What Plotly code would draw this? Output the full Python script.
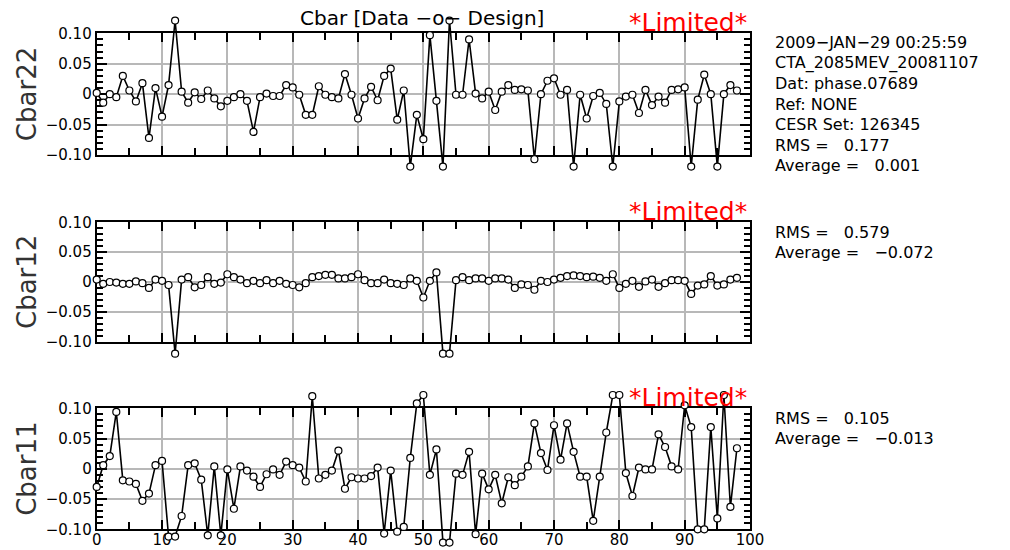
import plotly.graph_objects as go

idx = list(range(99))

cbar22 = [0.002, -0.014, 0.000, -0.005, 0.030, 0.006, -0.012, 0.018, -0.072, 0.010,
          -0.037, 0.015, 0.121, 0.004, -0.014, 0.003, -0.008, 0.006, -0.007, -0.020,
          -0.011, -0.005, 0.000, -0.011, -0.062, -0.005, 0.001, -0.003, -0.003, 0.015,
          0.011, -0.001, -0.034, -0.034, 0.013, -0.001, -0.005, -0.007, 0.033, -0.001,
          -0.040, -0.007, 0.012, -0.010, 0.030, 0.042, -0.042, 0.006, -0.119, -0.034,
          -0.074, 0.097, -0.011, -0.119, 0.121, -0.001, -0.001, 0.090, 0.001, -0.007,
          0.004, -0.026, 0.004, 0.015, 0.007, 0.008, 0.006, -0.107, 0.000, 0.022,
          0.026, -0.001, 0.007, -0.119, -0.001, -0.040, -0.003, 0.002, -0.016, -0.119,
          -0.012, -0.004, -0.001, -0.031, 0.007, -0.018, -0.004, -0.014, 0.007, 0.008,
          0.011, -0.119, -0.009, 0.032, 0.000, -0.119, 0.000, 0.015, 0.006]

cbar12 = [0.004, -0.003, 0.000, -0.001, -0.003, -0.003, 0.001, -0.002, -0.010, 0.004,
          0.002, -0.005, -0.120, 0.004, 0.008, -0.009, -0.005, 0.008, -0.003, -0.001,
          0.013, 0.008, 0.004, -0.002, 0.002, -0.002, 0.003, -0.002, 0.002, -0.003,
          -0.005, -0.009, -0.002, 0.008, 0.010, 0.012, 0.012, 0.006, 0.006, 0.008,
          0.013, 0.003, -0.002, -0.002, 0.004, -0.002, -0.003, -0.005, 0.006, 0.002,
          -0.026, 0.002, 0.016, -0.120, -0.120, 0.003, 0.008, 0.003, 0.006, 0.006,
          0.002, 0.006, 0.006, 0.004, -0.010, -0.004, -0.005, -0.013, 0.002, 0.000,
          0.004, 0.007, 0.010, 0.011, 0.010, 0.008, 0.009, 0.007, 0.002, 0.013,
          -0.010, -0.003, 0.002, -0.008, 0.001, 0.004, -0.008, -0.002, 0.003, 0.003,
          0.002, -0.020, -0.006, -0.004, 0.010, -0.006, -0.004, 0.004, 0.007]

cbar11 = [-0.030, 0.006, 0.021, 0.094, -0.019, -0.021, -0.025, -0.053, -0.041, 0.006,
          0.013, -0.112, -0.112, -0.078, 0.006, 0.009, -0.018, -0.110, 0.004, -0.110,
          -0.001, -0.066, 0.004, -0.003, -0.013, -0.030, -0.009, -0.001, -0.010, 0.012,
          0.006, 0.002, -0.021, 0.120, -0.016, -0.010, -0.003, 0.030, -0.033, -0.014,
          -0.016, -0.016, -0.012, 0.002, -0.107, -0.003, -0.104, -0.096, 0.018, 0.108,
          0.122, -0.010, 0.032, -0.122, -0.122, -0.008, -0.010, 0.028, -0.108, -0.008,
          -0.034, -0.010, -0.057, -0.014, -0.027, -0.013, 0.004, 0.075, 0.026, -0.002,
          0.072, 0.015, 0.075, 0.028, -0.013, -0.013, -0.086, -0.013, 0.060, 0.122,
          0.122, -0.007, -0.045, 0.002, -0.001, -0.001, 0.057, 0.036, 0.004, -0.001,
          0.105, 0.069, -0.100, -0.100, 0.069, -0.082, 0.122, -0.063, 0.034]

panel_names = ["Cbar22", "Cbar12", "Cbar11"]
rms_vals = ["0.177", "0.579", "0.105"]
avg_vals = ["0.001", "-0.072", "-0.013"]
x_ticks = [0, 10, 20, 30, 40, 50, 60, 70, 80, 90, 100]
y_ticks = [-0.10, -0.05, 0.0, 0.05, 0.10]
y_tick_text = ["\u22120.10", "\u22120.05", "0", "0.05", "0.10"]
info_lines = ["2009\u2212JAN\u221229 00:25:59", "CTA_2085MEV_20081107",
              "Dat: phase.07689", "Ref: NONE", "CESR Set: 126345"]

W, H = 1010, 550
FONT = "DejaVu Sans"
X0, X1 = 96.7, 750.0
frames = [(33.3, 155.0), (222.3, 341.7), (408.3, 529.3)]
series = [cbar22, cbar12, cbar11]
EXT = 0.03

def fx(px):
    return px / W

def fy(py):
    return 1 - py / H

fig = go.Figure()
layout = dict(
    width=W, height=H,
    margin=dict(l=0, r=0, t=0, b=0),
    paper_bgcolor="white", plot_bgcolor="rgba(0,0,0,0)",
    showlegend=False,
    font=dict(family=FONT, color="black"),
)

minor_x = [v for v in range(5, 100, 10)]
minor_y = [round(-0.1 + 0.01 * k, 2) for k in range(21)]
minor_y = [v for v in minor_y if abs(v / 0.05 - round(v / 0.05)) > 1e-6]

annotations = []
for i, (top, bot) in enumerate(frames):
    fa = 2 * i + 1
    da = 2 * i + 2
    fsuf = "" if fa == 1 else str(fa)
    dsuf = str(da)
    ppu = (bot - top) / 0.2
    # frame axes
    layout["xaxis" + fsuf] = dict(
        domain=[fx(X0), fx(X1)], range=[0, 100], anchor="y" + fsuf,
        showline=True, linecolor="black", linewidth=2, mirror="allticks",
        ticks="inside", ticklen=9, tickwidth=2, tickcolor="black",
        tickmode="array", tickvals=x_ticks,
        showticklabels=(i == 2), tickfont=dict(size=15, family=FONT),
        ticklabelstandoff=-4,
        showgrid=True, gridcolor="#b8b8b8", gridwidth=2, zeroline=False,
        minor=dict(tickmode="array", tickvals=minor_x, ticks="inside",
                   ticklen=7, tickwidth=2, tickcolor="black", showgrid=False),
        automargin=False, fixedrange=True,
    )
    layout["yaxis" + fsuf] = dict(
        domain=[fy(bot), fy(top)], range=[-0.1, 0.1], anchor="x" + fsuf,
        showline=True, linecolor="black", linewidth=2, mirror="allticks",
        ticks="inside", ticklen=10, tickwidth=2, tickcolor="black",
        tickmode="array", tickvals=y_ticks, ticktext=y_tick_text,
        tickfont=dict(size=15, family=FONT),
        showgrid=True, gridcolor="#b8b8b8", gridwidth=2, zeroline=False,
        minor=dict(tickmode="array", tickvals=minor_y, ticks="inside",
                   ticklen=6, tickwidth=1.5, tickcolor="black", showgrid=False),
        automargin=False, fixedrange=True,
    )
    # data axes (extended vertically so limited points can sit outside the frame)
    layout["xaxis" + dsuf] = dict(
        domain=[fx(X0), fx(X1)], range=[0, 100], anchor="y" + dsuf,
        visible=False, fixedrange=True,
    )
    layout["yaxis" + dsuf] = dict(
        domain=[fy(bot + EXT * ppu), fy(top - EXT * ppu)],
        range=[-0.1 - EXT, 0.1 + EXT], anchor="x" + dsuf,
        visible=False, fixedrange=True,
    )
    # empty trace so the frame subplot is created
    fig.add_trace(go.Scatter(
        x=[None], y=[None], mode="markers", hoverinfo="skip",
        xaxis="x" + fsuf, yaxis="y" + fsuf,
    ))
    fig.add_trace(go.Scatter(
        x=idx, y=series[i], mode="lines+markers",
        xaxis="x" + dsuf, yaxis="y" + dsuf,
        line=dict(color="black", width=1.6),
        marker=dict(symbol="circle", size=7, color="white",
                    line=dict(color="black", width=1.2)),
        cliponaxis=False,
    ))
    mid = (top + bot) / 2
    annotations.append(dict(
        text=panel_names[i], x=fx(27), y=fy(mid), xref="paper", yref="paper",
        textangle=-90, showarrow=False, xanchor="center", yanchor="middle",
        font=dict(size=26, family=FONT, color="#333"),
    ))
    annotations.append(dict(
        text="*Limited*", x=fx(749), y=fy(top - 11), xref="paper", yref="paper",
        showarrow=False, xanchor="right", yanchor="middle",
        font=dict(size=25, family=FONT, color="red"),
    ))

# right-side info text
line_h = 20.4
info_y0 = 43
for k, t in enumerate(info_lines):
    annotations.append(dict(
        text=t, x=fx(773), y=fy(info_y0 + k * line_h), xref="paper", yref="paper",
        showarrow=False, xanchor="left", yanchor="middle",
        font=dict(size=16, family=FONT),
    ))
stat_y = [info_y0 + 5 * line_h, 232, 418]
for i in range(3):
    annotations.append(dict(
        text="RMS =   " + rms_vals[i], x=fx(773), y=fy(stat_y[i]),
        xref="paper", yref="paper", showarrow=False, xanchor="left", yanchor="middle",
        font=dict(size=16, family=FONT),
    ))
    annotations.append(dict(
        text="Average =   " + avg_vals[i].replace("-", "\u2212"), x=fx(773),
        y=fy(stat_y[i] + line_h), xref="paper", yref="paper", showarrow=False,
        xanchor="left", yanchor="middle", font=dict(size=16, family=FONT),
    ))

annotations.append(dict(
    text="Cbar [Data \u2212o\u2212 Design]", x=fx(422), y=fy(18), xref="paper", yref="paper",
    showarrow=False, xanchor="center", yanchor="middle",
    font=dict(size=20, family=FONT),
))

layout["annotations"] = annotations
fig.update_layout(**layout)
fig.write_html("out.html")
